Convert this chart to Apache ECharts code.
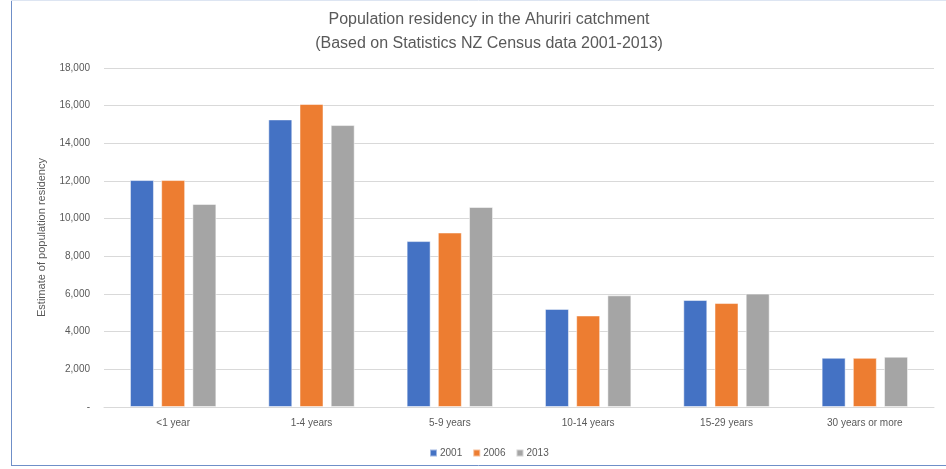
<!DOCTYPE html>
<html>
<head>
<meta charset="utf-8">
<script src="https://cdn.jsdelivr.net/npm/echarts@6/dist/echarts.min.js"></script>
<style>
  html, body { margin: 0; padding: 0; background: #fff; }
  #main { width: 946px; height: 469px; }
</style>
</head>
<body>
<div id="main"></div>
<script>
// data
var categories = ['<1 year', '1-4 years', '5-9 years', '10-14 years', '15-29 years', '30 years or more'];
var years = ['2001', '2006', '2013'];
var v2001 = [12050, 15270, 8810, 5210, 5680, 2615];
var v2006 = [12050, 16090, 9265, 4860, 5520, 2610];
var v2013 = [10780, 14970, 10620, 5930, 6020, 2670];
var colors = ['#4472C4', '#ED7D31', '#A5A5A5'];

var txt = '#595959';
var font = 'Liberation Sans';

function fmt(v) {
    if (v === 0) return '-';
    return v.toLocaleString('en-US');
}

var seriesData = [v2001, v2006, v2013];
var series = years.map(function (y, i) {
    return {
        name: y,
        type: 'bar',
        barWidth: 24,
        barGap: '30%',
        data: seriesData[i],
        itemStyle: { color: colors[i], borderColor: 'rgba(255,255,255,0.5)', borderWidth: 1 }
    };
});

var chart = echarts.init(document.getElementById('main'));
chart.setOption({
    animation: false,
    title: {
        text: 'Population residency in the Ahuriri catchment\n(Based on Statistics NZ Census data 2001-2013)',
        left: 484,
        top: 3,
        textAlign: 'center',
        textStyle: { color: txt, fontFamily: font, fontSize: 16, fontWeight: 'normal', lineHeight: 24 }
    },
    legend: {
        data: years,
        left: 484 - 60,
        top: 443,
        itemWidth: 7,
        itemHeight: 7,
        itemGap: 10,
        icon: 'rect',
        textStyle: { color: txt, fontFamily: font, fontSize: 10, padding: [0, 0, 0, -2] }
    },
    grid: { left: 104, right: 12, top: 68, bottom: 62 },
    xAxis: {
        type: 'category',
        data: categories,
        axisTick: { show: false },
        axisLine: { lineStyle: { color: '#D9D9D9' } },
        axisLabel: { color: txt, fontFamily: font, fontSize: 10, margin: 11 }
    },
    yAxis: {
        type: 'value',
        min: 0,
        max: 18000,
        interval: 2000,
        name: 'Estimate of population residency',
        nameLocation: 'middle',
        nameGap: 57,
        nameTextStyle: { color: txt, fontFamily: font, fontSize: 11 },
        axisLine: { show: false },
        axisTick: { show: false },
        splitLine: { lineStyle: { color: '#D9D9D9' } },
        axisLabel: { color: txt, fontFamily: font, fontSize: 10, margin: 14, formatter: fmt }
    },
    graphic: [
        { type: 'line', shape: { x1: 11.5, y1: 0, x2: 11.5, y2: 465 }, style: { stroke: '#6f8fc8', lineWidth: 1 } },
        { type: 'line', shape: { x1: 11, y1: 465.5, x2: 946, y2: 465.5 }, style: { stroke: '#6f8fc8', lineWidth: 1 } },
        { type: 'line', shape: { x1: 11, y1: 0.5, x2: 946, y2: 0.5 }, style: { stroke: '#dde5f2', lineWidth: 1 } }
    ],
    series: series
});
</script>
</body>
</html>
